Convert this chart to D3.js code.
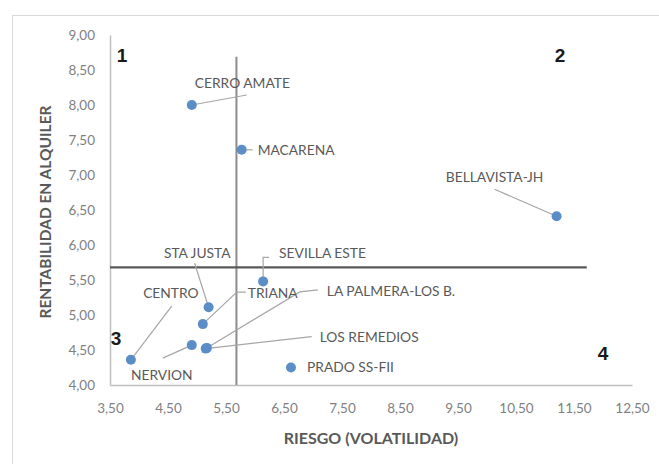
<!DOCTYPE html>
<html>
<head>
<meta charset="utf-8">
<script src="https://cdn.jsdelivr.net/npm/d3@7"></script>
<style>
 body { margin: 0; background: #fff; }
 text { font-family: Lato, "Open Sans", sans-serif; }
</style>
</head>
<body>
<div id="chart"></div>
<script>
// data
var barrios = ["CERRO AMATE", "MACARENA", "BELLAVISTA-JH", "SEVILLA ESTE", "STA JUSTA", "TRIANA",
               "LA PALMERA-LOS B.", "LOS REMEDIOS", "PRADO SS-FII", "CENTRO", "NERVION"];
var riesgo = [4.91, 5.77, 11.20, 6.14, 5.20, 5.10, 5.17, 5.15, 6.62, 3.86, 4.91];
var rentabilidad = [8.00, 7.36, 6.41, 5.48, 5.11, 4.87, 4.53, 4.52, 4.25, 4.36, 4.57];
var xTicks = [3.5, 4.5, 5.5, 6.5, 7.5, 8.5, 9.5, 10.5, 11.5, 12.5];
var yTicks = [4, 4.5, 5, 5.5, 6, 6.5, 7, 7.5, 8, 8.5, 9];
var riesgoMedio = 5.68, rentMedia = 5.68;

// label placement, pixel offsets from each point: text anchor + leader path
var labelLayout = [
 {tx: 3, ty: -22, anchor: "start", leader: [[55, -10]]},
 {tx: 16, ty: 0, anchor: "start", leader: [[11, 0]]},
 {tx: -62, ty: -39, anchor: "middle", leader: [[-62, -27]]},
 {tx: 16, ty: -28, anchor: "start", leader: [[0, -24], [6, -24]]},
 {tx: 22, ty: -54, anchor: "end", leader: [[-14, -44]]},
 {tx: 45, ty: -31, anchor: "start", leader: [[34, -32], [43, -32]]},
 {tx: 120, ty: -57, anchor: "start", leader: [[93, -56], [111, -58]]},
 {tx: 114, ty: -11, anchor: "start", leader: [[106, -12]]},
 {tx: 16, ty: 0, anchor: "start", leader: []},
 {tx: 40, ty: -67, anchor: "middle", leader: [[41, -54]]},
 {tx: -30, ty: 30, anchor: "middle", leader: [[-29, 13]]}
];

var margin = {top: 35, right: 27, bottom: 79, left: 110},
 width = 659 - margin.left - margin.right,
 height = 464 - margin.top - margin.bottom;

var svg = d3.select("#chart")
 .append("svg")
 .attr("width", 659)
 .attr("height", 464);

// outer frame of the chart object
svg.append("rect")
 .attr("x", 12.5).attr("y", 15.5)
 .attr("width", 700).attr("height", 500)
 .attr("fill", "none")
 .attr("stroke", "#d9d9d9");

var g = svg.append("g")
 .attr("transform", "translate(" + margin.left + "," + margin.top + ")");

var x = d3.scaleLinear().domain([3.5, 12.5]).range([0, width]);
var y = d3.scaleLinear().domain([4, 9]).range([height, 0]);
var fmt = function(d) { return d3.format(".2f")(d).replace(".", ","); };

// axes
var xAxis = g.append("g")
 .attr("transform", "translate(0," + height + ")")
 .call(d3.axisBottom(x).tickValues(xTicks).tickFormat(fmt).tickSize(0).tickPadding(18));
var yAxis = g.append("g")
 .call(d3.axisLeft(y).tickValues(yTicks).tickFormat(fmt).tickSize(0).tickPadding(15));
[xAxis, yAxis].forEach(function(a) {
 a.select(".domain").attr("stroke", "#bfbfbf").attr("stroke-width", 1.5);
 a.selectAll("text").attr("fill", "#7f7f7f").style("font-size", "13.5px")
  .style("font-family", "Lato, sans-serif");
});

// quadrant lines
g.append("line")
 .attr("x1", x(riesgoMedio)).attr("x2", x(riesgoMedio))
 .attr("y1", y(8.69)).attr("y2", y(4))
 .attr("stroke", "#8c8c8c").attr("stroke-width", 2);
g.append("line")
 .attr("x1", x(3.5)).attr("x2", x(11.72))
 .attr("y1", y(rentMedia)).attr("y2", y(rentMedia))
 .attr("stroke", "#595959").attr("stroke-width", 2.2);

// leaders
barrios.forEach(function(b, i) {
 var px = x(riesgo[i]), py = y(rentabilidad[i]);
 var pts = [[px, py]].concat(labelLayout[i].leader.map(function(p) { return [px + p[0], py + p[1]]; }));
 if (pts.length > 1) {
  g.append("path")
   .attr("d", d3.line()(pts))
   .attr("fill", "none")
   .attr("stroke", "#a6a6a6")
   .attr("stroke-width", 1.2);
 }
});

// points
g.selectAll("circle.pt")
 .data(barrios)
 .enter()
 .append("circle")
 .attr("class", "pt")
 .attr("cx", function(d, i) { return x(riesgo[i]); })
 .attr("cy", function(d, i) { return y(rentabilidad[i]); })
 .attr("r", 5)
 .attr("fill", "#5b8ec6");

// labels
g.selectAll("text.lbl")
 .data(barrios)
 .enter()
 .append("text")
 .attr("class", "lbl")
 .attr("x", function(d, i) { return x(riesgo[i]) + labelLayout[i].tx; })
 .attr("y", function(d, i) { return y(rentabilidad[i]) + labelLayout[i].ty; })
 .attr("dy", "0.35em")
 .attr("text-anchor", function(d, i) { return labelLayout[i].anchor; })
 .attr("fill", "#595959")
 .style("font-size", "13.8px")
 .text(function(d) { return d; });

// quadrant numbers
var quads = [["1", 122, 55], ["2", 560, 55], ["3", 116, 338], ["4", 603, 353]];
svg.selectAll("text.q")
 .data(quads)
 .enter()
 .append("text")
 .attr("class", "q")
 .attr("x", function(d) { return d[1]; })
 .attr("y", function(d) { return d[2]; })
 .attr("dy", "0.35em")
 .attr("text-anchor", "middle")
 .style("font-family", "Liberation Sans, Arial, sans-serif")
 .style("font-size", "19px")
 .style("font-weight", "bold")
 .attr("fill", "#1a1a1a")
 .text(function(d) { return d[0]; });

// axis titles
svg.append("text")
 .attr("x", 371)
 .attr("y", 438)
 .attr("dy", "0.35em")
 .attr("text-anchor", "middle")
 .attr("fill", "#595959")
 .style("font-size", "16px")
 .style("font-weight", "bold")
 .text("RIESGO (VOLATILIDAD)");
svg.append("text")
 .attr("transform", "translate(46," + 212 + ") rotate(-90)")
 .attr("dy", "0.35em")
 .attr("text-anchor", "middle")
 .attr("fill", "#595959")
 .style("font-size", "15.5px")
 .style("font-weight", "bold")
 .text("RENTABILIDAD EN ALQUILER");
</script>
</body>
</html>
